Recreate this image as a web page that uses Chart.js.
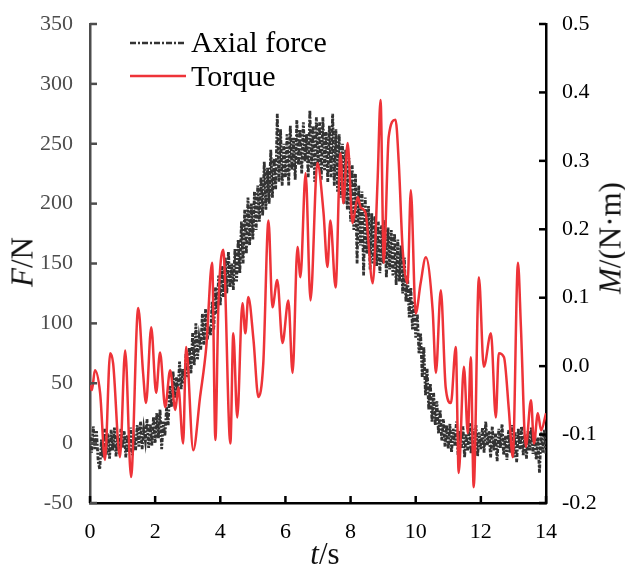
<!DOCTYPE html>
<html>
<head>
<meta charset="utf-8">
<script src="https://cdn.jsdelivr.net/npm/chart.js@4"></script>
<style>
    body { margin: 0; background: #fff; }
    #wrap { position: relative; width: 625px; height: 568px; font-family: 'Liberation Serif', 'Times New Roman', serif; }
    .ttl { position: absolute; font-size: 31px; color: #111; white-space: nowrap; line-height: 31px; }
    .rot { transform: translate(-50%, -50%) rotate(-90deg); }
    .leg { position: absolute; font-size: 30px; line-height: 30px; color: #000; white-space: nowrap; }
</style>
</head>
<body>
<div id="wrap">
    <canvas id="chart" width="625" height="568"></canvas>
    <div class="ttl rot" style="left:22px; top:262px;"><i>F</i>/N</div>
    <div class="ttl rot" style="left:610px; top:238px;"><i>M</i>/(N·m)</div>
    <div class="ttl" style="left:325px; top:553px; transform: translate(-50%, -50%);"><i>t</i>/s</div>
    <svg style="position:absolute; left:0; top:0;" width="625" height="100">
        <line x1="130" y1="43" x2="186" y2="43" stroke="#333" stroke-width="2.5" stroke-dasharray="6,2,2,2"/>
        <line x1="130" y1="76" x2="186" y2="76" stroke="#ee3338" stroke-width="2.5"/>
    </svg>
    <div class="leg" style="left:191px; top:27px;">Axial force</div>
    <div class="leg" style="left:191px; top:61px;">Torque</div>
</div>
<script>
// axial force, N, one sample every forceStep seconds (0 .. 14 s)
const forceStep = 0.05;
const axialForce = [
    5, -8, 14, -5, 10, -15, -22, 3, -12, 12, -10, 8, -13, 11, -6, 13, -11, 6, -9, 12,
    -4, 10, -12, 7, -8, 13, -10, 4, -6, 15, -3, 18, -5, 12, 2, 20, -4, 16, -2, 22,
    0, 25, 4, 28, -5, 18, 6, 30, 15, 48, 30, 60, 38, 55, 42, 68, 45, 62, 50, 75,
    55, 80, 58, 92, 65, 100, 70, 88, 78, 108, 82, 112, 86, 98, 90, 118, 95, 130, 108, 140,
    115, 148, 122, 155, 125, 160, 130, 150, 128, 162, 135, 170, 142, 185, 150, 195, 158, 205, 165, 200,
    170, 210, 178, 215, 185, 222, 190, 235, 195, 230, 200, 245, 205, 238, 212, 275, 218, 262, 215, 250,
    222, 258, 215, 265, 228, 255, 220, 270, 232, 262, 225, 268, 235, 258, 222, 278, 230, 265, 218, 272,
    230, 268, 220, 272, 228, 260, 218, 265, 222, 275, 215, 262, 210, 258, 205, 250, 200, 245, 195, 238,
    185, 232, 178, 225, 150, 215, 165, 210, 140, 205, 158, 198, 145, 192, 150, 190, 148, 185, 142, 182,
    150, 186, 138, 180, 145, 178, 140, 175, 132, 170, 135, 165, 125, 155, 118, 140, 105, 130, 95, 118,
    88, 108, 75, 92, 55, 80, 40, 62, 28, 50, 18, 42, 15, 35, 8, 28, 2, 20, -3, 15,
    -5, 16, -8, 12, -2, 18, -10, 10, -4, 14, -12, 8, -6, 17, -9, 12, -3, 15, -11, 9,
    -5, 13, -8, 18, -2, 10, -12, 14, -6, 8, -15, 12, -4, 16, -10, 6, -14, 11, -8, 15,
    -12, 9, -16, 12, -5, 14, -10, 7, -13, 10, -6, 13, -9, 8, -14, 5, -25, 9, -8, 11,
    -10
];

// torque, N·m, read at these times (s)
const torqueT = [
    0.00, 0.06, 0.15, 0.31, 0.46, 0.62, 0.71, 0.92, 1.08, 1.26,
    1.48, 1.63, 1.72, 1.88, 2.03, 2.15, 2.31, 2.46, 2.62, 2.71,
    2.86, 2.95, 3.17, 3.38, 3.57, 3.75, 3.85, 3.94, 4.09, 4.31,
    4.40, 4.52, 4.68, 4.77, 4.86, 5.02, 5.17, 5.32, 5.48, 5.60,
    5.75, 5.91, 6.09, 6.22, 6.37, 6.46, 6.62, 6.77, 6.98, 7.17,
    7.29, 7.38, 7.54, 7.69, 7.78, 7.91, 8.06, 8.22, 8.31, 8.46,
    8.68, 8.83, 8.92, 9.02, 9.17, 9.38, 9.48, 9.60, 9.75, 9.85,
    10.00, 10.15, 10.31, 10.52, 10.62, 10.77, 10.92, 11.08, 11.23, 11.32,
    11.48, 11.60, 11.69, 11.78, 11.94, 12.09, 12.31, 12.46, 12.55, 12.71,
    12.86, 12.98, 13.14, 13.23, 13.38, 13.54, 13.63, 13.75, 13.85, 14.00
];
const torqueM = [
    -0.028, -0.035, -0.006, -0.039, -0.137, 0.019, 0.004, -0.133, 0.023, -0.162,
    0.085, -0.010, -0.054, 0.057, -0.039, 0.020, -0.060, -0.006, -0.064, -0.031,
    -0.113, 0.028, -0.123, -0.045, 0.028, 0.151, -0.108, 0.086, 0.170, -0.113,
    0.048, -0.075, 0.092, 0.048, 0.101, 0.038, -0.045, 0.004, 0.213, 0.086,
    0.126, 0.034, 0.096, -0.010, 0.174, 0.130, 0.282, 0.096, 0.297, 0.224,
    0.145, 0.213, 0.115, 0.311, 0.238, 0.326, 0.209, 0.247, 0.232, 0.224,
    0.121, 0.272, 0.389, 0.151, 0.335, 0.360, 0.297, 0.170, 0.121, 0.257,
    0.077, 0.121, 0.159, 0.082, -0.010, 0.111, -0.031, -0.054, 0.028, -0.156,
    -0.001, -0.098, 0.013, -0.177, 0.130, -0.001, 0.048, -0.075, 0.019, 0.013,
    -0.064, -0.133, 0.151, 0.057, -0.118, -0.050, -0.113, -0.069, -0.094, -0.069
];

const xTicks = { min: 0, max: 14, step: 2 };
const fTicks = { min: -50, max: 350, step: 50 };
const mTicks = { min: -0.2, max: 0.5, step: 0.1 };

const forcePts = axialForce.map((v, i) => ({ x: +(i * forceStep).toFixed(2), y: v }));
const torquePts = torqueT.map((t, i) => ({ x: t, y: torqueM[i] }));

const serif = "'Liberation Serif', 'Times New Roman', serif";
Chart.defaults.font.family = serif;

// ticks in this figure point into the plot
const inwardTicks = {
    id: 'inwardTicks',
    afterDatasetsDraw(chart) {
        const { ctx, chartArea: a, scales } = chart;
        const len = 7;
        ctx.save();
        ctx.lineWidth = 2.5;
        ctx.strokeStyle = '#000';
        scales.x.ticks.forEach(t => {
            const p = scales.x.getPixelForValue(t.value);
            ctx.beginPath(); ctx.moveTo(p, a.bottom); ctx.lineTo(p, a.bottom - len); ctx.stroke();
        });
        ctx.strokeStyle = '#4d4d4d';
        scales.y.ticks.forEach(t => {
            const p = scales.y.getPixelForValue(t.value);
            ctx.beginPath(); ctx.moveTo(a.left, p); ctx.lineTo(a.left + len, p); ctx.stroke();
        });
        ctx.strokeStyle = '#000';
        scales.y1.ticks.forEach(t => {
            const p = scales.y1.getPixelForValue(t.value);
            ctx.beginPath(); ctx.moveTo(a.right, p); ctx.lineTo(a.right - len, p); ctx.stroke();
        });
        ctx.restore();
    }
};

new Chart(document.getElementById('chart'), {
    type: 'line',
    data: {
        datasets: [
            {
                label: 'Axial force', data: forcePts, yAxisID: 'y', order: 1,
                borderColor: '#333', borderWidth: 2.8, borderDash: [4, 1.5, 2, 1.5],
                pointRadius: 0, tension: 0
            },
            {
                label: 'Torque', data: torquePts, yAxisID: 'y1', order: 0,
                borderColor: '#ee3338', borderWidth: 2.5,
                pointRadius: 0, cubicInterpolationMode: 'monotone'
            }
        ]
    },
    options: {
        responsive: false,
        devicePixelRatio: 1,
        animation: false,
        layout: { padding: { top: 24, left: 0, right: 0, bottom: 0 } },
        plugins: { legend: { display: false }, tooltip: { enabled: false } },
        scales: {
            x: {
                type: 'linear', min: xTicks.min, max: xTicks.max,
                grid: { display: false },
                border: { display: true, color: '#000', width: 2.5 },
                ticks: { stepSize: xTicks.step, color: '#000', font: { size: 22 }, padding: 8, maxRotation: 0 },
                afterFit: s => { s.height = 65; }
            },
            y: {
                position: 'left', min: fTicks.min, max: fTicks.max,
                grid: { display: false },
                border: { display: true, color: '#4d4d4d', width: 2.5 },
                ticks: { stepSize: fTicks.step, color: '#4d4d4d', font: { size: 22 }, padding: 9 },
                afterFit: s => { s.width = 90; }
            },
            y1: {
                position: 'right', min: mTicks.min, max: mTicks.max,
                grid: { display: false },
                border: { display: true, color: '#000', width: 2.5 },
                ticks: {
                    stepSize: mTicks.step, color: '#000', font: { size: 22 }, padding: 8,
                    callback: v => (Math.round(v * 10) / 10).toFixed(1)
                },
                afterFit: s => { s.width = 79; }
            }
        }
    },
    plugins: [inwardTicks]
});
</script>
</body>
</html>
